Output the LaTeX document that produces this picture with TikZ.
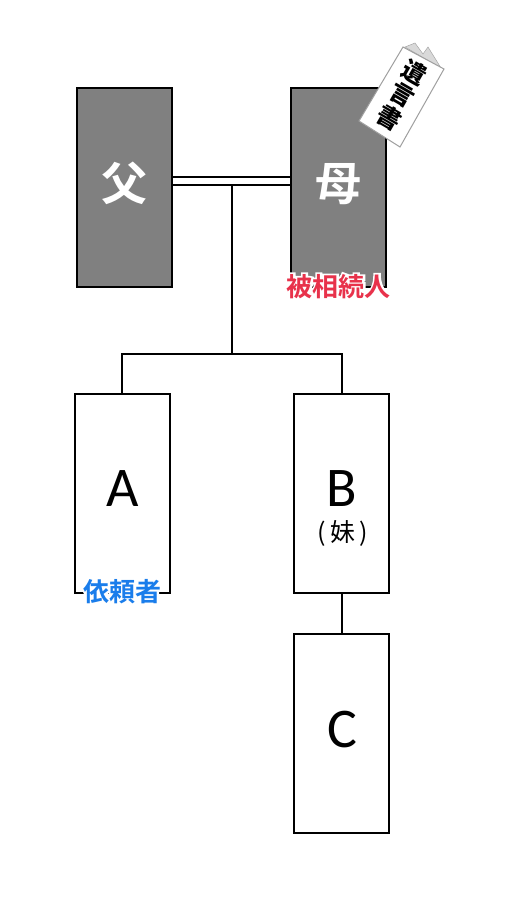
\documentclass[tikz,border=0pt]{standalone}
\usepackage{fontspec}
\setmainfont{Carlito}
\newfontfamily\cjk{Noto Sans CJK JP}
\newfontfamily\cjkb{Noto Sans CJK JP Bold}
\newfontfamily\cjkk{Noto Sans CJK JP Black}
\definecolor{redlabel}{HTML}{E8324B}
\definecolor{bluelabel}{HTML}{1A7DEB}
\newcommand{\halotext}[1]{\rlap{\special{pdf:code q 2 Tr 1 1 1 RG 1 1 1 rg 4 w}\textcolor{white}{#1}\special{pdf:code 0 Tr Q}}#1}
\tikzset{
  person/.style={draw=black,line width=2pt,minimum width=95pt,minimum height=199pt,inner sep=0pt,anchor=north west},
  dark/.style={person,fill=gray},
  light/.style={person,fill=white},
  conn/.style={draw=black,line width=2pt},
  bigname/.style={font=\cjkb\fontsize{46}{46}\selectfont,text=white,inner sep=0pt},
  letter/.style={font=\fontsize{56}{56}\selectfont,inner sep=0pt},
  tag/.style={inner sep=1pt,font=\cjkb\fontsize{26}{26}\selectfont},
  willchar/.style={font=\cjkk\fontsize{24}{24}\selectfont,rotate=-30,inner sep=0pt},
}
\begin{document}
\begin{tikzpicture}[x=1pt,y=-1pt]
\useasboundingbox (0,0) rectangle (510,897);
% boxes
\node[dark] (father) at (76,87) {};
\node[dark] (mother) at (290,87) {};
\node[light] (a) at (74,393) {};
\node[light] (b) at (293,393) {};
\node[light] (c) at (293,633) {};
% marriage lines
\coordinate (fu) at (172,177); \coordinate (mu) at (291,177);
\coordinate (fl) at (172,185); \coordinate (ml) at (291,185);
\draw[conn] (fu) -- (mu);
\draw[conn] (fl) -- (ml);
% descent
\coordinate (drop) at (232,185);
\coordinate (fork) at (232,354);
\coordinate (forkl) at (122,354);
\coordinate (forkr) at (342,354);
\draw[conn] (drop) -- (fork);
\draw[conn] (a.north -| forkl) -- (forkl) -- (forkr) -- (b.north -| forkr);
\draw[conn] (b.south -| forkr) -- (c.north -| forkr);
% texts
\node[bigname] (tf) at (124,183) {父};
\node[bigname] (tm) at (338,184) {母};
\node[letter] (ta) at (122.5,489) {A};
\node[letter] (tb) at (342,489) {B};
\node[font=\cjk\fontsize{25}{25}\selectfont,inner sep=0pt] (ts) at (342.5,533) {(\hspace{4pt}妹\hspace{4pt})};
\node[letter] (tc) at (342,730) {C};
\node[tag,text=redlabel] (heir) at (338.5,286.5) {\halotext{被相続人}};
\node[tag,text=bluelabel] (client) at (122.5,591.5) {\halotext{依頼者}};
% will document
\fill[gray!30,draw=gray!70,line width=.5pt] (405,47) -- (415,43) -- (423,54) -- (428,47) -- (441,68) -- cycle;
\draw[fill=white,draw=gray!75,line width=1pt] (403,47) -- (444,69) -- (400,147) -- (359,121) -- cycle;
\node[willchar] (w1) at (414,73) {遺};
\node[willchar] (w2) at (402,95) {言};
\node[willchar] (w3) at (389,118) {書};
\end{tikzpicture}
\end{document}
